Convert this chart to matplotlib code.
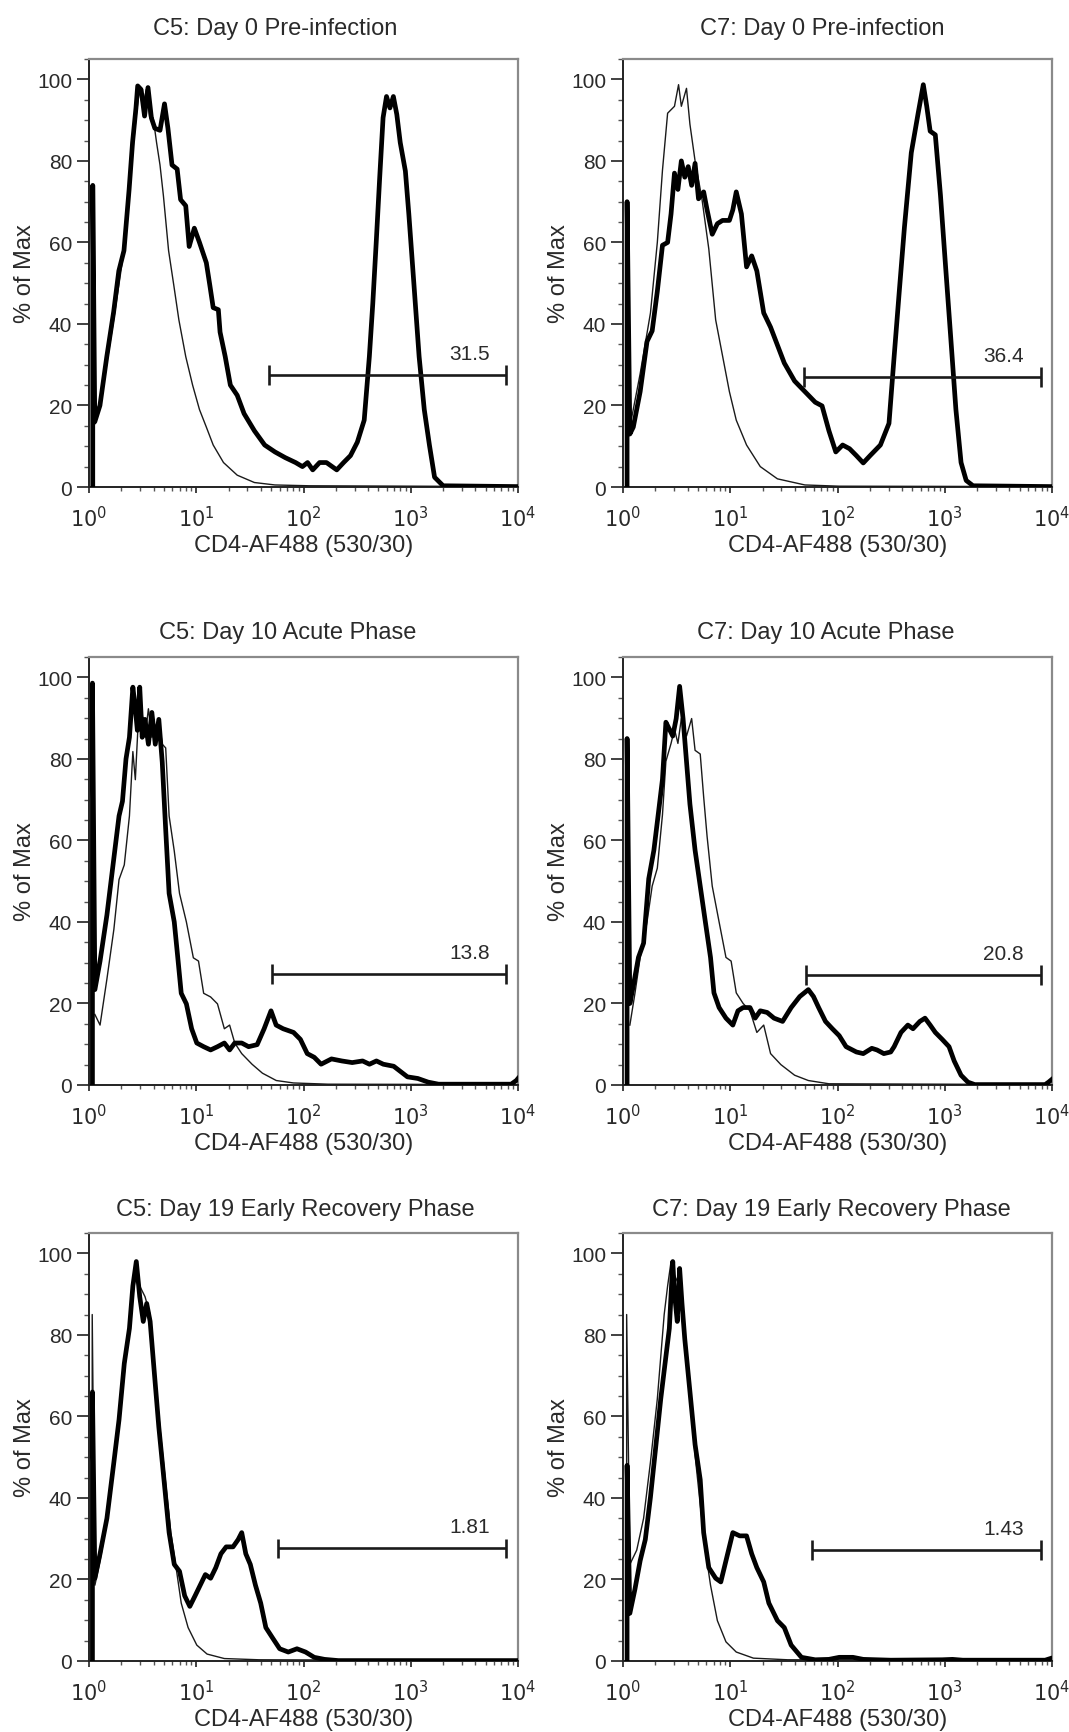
import matplotlib
matplotlib.use("Agg")
import matplotlib.pyplot as plt
import numpy as np
from matplotlib.ticker import LogLocator, MultipleLocator, FixedLocator, NullFormatter

plt.rcParams['font.family'] = ['Liberation Sans', 'DejaVu Sans']

# ---------------- data (x in log10 of CD4-AF488 intensity, y in % of Max) ----------------
titles = ["C5: Day 0 Pre-infection", "C7: Day 0 Pre-infection",
          "C5: Day 10 Acute Phase", "C7: Day 10 Acute Phase",
          "C5: Day 19 Early Recovery Phase", "C7: Day 19 Early Recovery Phase"]
gate_labels = ["31.5", "36.4", "13.8", "20.8", "1.81", "1.43"]
gate_lo = [1.68, 1.69, 1.71, 1.71, 1.76, 1.76]   # log10
gate_hi = [3.89, 3.90, 3.89, 3.90, 3.89, 3.90]
gate_y = [27.5, 27.0, 27.2, 27.0, 27.6, 27.2]

# Panel 1: C5 Day 0
p1_thick_x = [0.035, 0.035, 0.054, 0.102, 0.166, 0.23, 0.278, 0.326, 0.374, 0.406, 0.438, 0.454, 0.486,
              0.518, 0.55, 0.582, 0.614, 0.662, 0.704, 0.736, 0.774, 0.822, 0.854, 0.902, 0.934, 0.982,
              1.03, 1.094, 1.126, 1.158, 1.206, 1.222, 1.27, 1.318, 1.382, 1.446, 1.542, 1.638, 1.734,
              1.83, 1.926, 1.99, 2.038, 2.086, 2.15, 2.214, 2.31, 2.374, 2.438, 2.502, 2.566, 2.614,
              2.646, 2.678, 2.71, 2.742, 2.774, 2.806, 2.838, 2.87, 2.902, 2.95, 2.982, 3.03, 3.078,
              3.126, 3.174, 3.222, 3.302, 4.0]
p1_thick_y = [0, 74, 16, 20, 32, 43, 53, 58, 73, 84.5, 93, 98.4, 97.5,
              91, 98, 90.5, 88, 87.5, 94, 88, 79, 78, 70.5, 69, 59, 63.5,
              60, 55, 49.6, 44, 43.5, 38, 32, 25, 22.5, 18, 13.8, 10.3, 8.6,
              7.2, 6, 5, 6, 4.2, 6, 6, 4.2, 6, 7.7, 11, 16.4, 32,
              45, 60, 75.7, 90.6, 95.8, 93, 95.8, 91.4, 84.5, 77.5, 67, 49.6, 32,
              19, 10.3, 2.4, 0.3, 0.1]
p1_thin_x = [0.054, 0.134, 0.23, 0.326, 0.39, 0.438, 0.47, 0.502, 0.534, 0.566, 0.598, 0.63, 0.662,
             0.694, 0.742, 0.79, 0.838, 0.902, 0.966, 1.03, 1.094, 1.158, 1.254, 1.382, 1.542,
             1.734, 2.054, 4.0]
p1_thin_y = [15.5, 25, 41, 58, 77.5, 90.6, 97.5, 93, 97.5, 90.6, 90.6, 84.5, 79,
             71.4, 58, 49.6, 41, 32, 25, 19, 14.7, 10.3, 6, 2.9, 1.1,
             0.5, 0.3, 0.1]

# Panel 2: C7 Day 0
p2_thick_x = [0.038, 0.038, 0.064, 0.096, 0.16, 0.224, 0.272, 0.32, 0.368, 0.416, 0.448, 0.48, 0.512,
              0.544, 0.576, 0.608, 0.64, 0.672, 0.704, 0.752, 0.784, 0.832, 0.88, 0.928, 0.992, 1.024,
              1.056, 1.104, 1.152, 1.2, 1.248, 1.312, 1.376, 1.44, 1.504, 1.6, 1.696, 1.792, 1.856,
              1.92, 1.984, 2.048, 2.112, 2.176, 2.24, 2.304, 2.4, 2.48, 2.528, 2.576, 2.624, 2.688,
              2.752, 2.8, 2.832, 2.864, 2.912, 2.96, 3.008, 3.056, 3.104, 3.152, 3.2, 3.264, 4.0]
p2_thick_y = [0, 70, 13, 14.7, 23.4, 35.7, 38.3, 48, 59.3, 60, 67, 77, 73,
              80, 76, 78.6, 74, 79.4, 70.7, 72.4, 68, 62, 64.6, 65.4, 65.4, 68,
              72.4, 67, 54, 56.7, 53, 42.7, 39.2, 34.8, 30.4, 26, 23.4, 20.8, 19.9,
              13.8, 8.6, 10.3, 9.4, 7.7, 5.9, 7.7, 10.3, 15.6, 32, 48, 63.7, 82,
              91.7, 98.7, 93.4, 87.3, 86.4, 71.6, 54, 36.6, 19, 6, 1.6, 0.3, 0.1]
p2_thin_x = [0.064, 0.16, 0.256, 0.32, 0.368, 0.416, 0.48, 0.518, 0.544, 0.592, 0.624, 0.672, 0.736,
             0.8, 0.864, 0.928, 0.992, 1.056, 1.152, 1.28, 1.44, 1.696, 2.016, 4.0]
p2_thin_y = [14.7, 27.8, 42.7, 60, 77.7, 91.7, 93.4, 98.7, 93.4, 97.8, 89, 80, 70.7,
             58.4, 41, 32.2, 23.4, 16.4, 10.3, 5, 2, 0.5, 0.2, 0.1]

# Panel 3: C5 Day 10
p3_thick_x = [0.032, 0.032, 0.055, 0.103, 0.167, 0.232, 0.28, 0.312, 0.345, 0.377, 0.409, 0.432, 0.451,
              0.473, 0.496, 0.522, 0.554, 0.586, 0.618, 0.651, 0.683, 0.715, 0.747, 0.795, 0.828, 0.86,
              0.908, 0.957, 1.005, 1.069, 1.134, 1.198, 1.262, 1.311, 1.359, 1.424, 1.488, 1.568, 1.633,
              1.697, 1.745, 1.81, 1.907, 1.971, 2.035, 2.1, 2.164, 2.261, 2.357, 2.454, 2.551, 2.615,
              2.68, 2.744, 2.841, 2.905, 2.969, 3.066, 3.163, 3.259, 3.936, 3.984, 4.0]
p3_thick_y = [0, 98.6, 23.4, 30.4, 41.7, 55.7, 66, 69.6, 80, 85.3, 97.6, 92.3, 87,
              97.6, 85.3, 89.7, 83.6, 91.4, 83.6, 89.7, 79.2, 62.7, 47, 40, 31.2, 22.5,
              19.9, 13.8, 10.3, 9.4, 8.6, 9.4, 10.3, 8.6, 10.3, 10.3, 9.4, 9.9, 13.8,
              18.2, 14.7, 13.8, 12.9, 11.2, 7.7, 6.8, 5.1, 6.4, 5.9, 5.5, 5.9, 5.1,
              5.9, 5.1, 4.6, 3.3, 2.0, 1.6, 0.7, 0.2, 0.2, 1.1, 1.6]
p3_thin_x = [0.055, 0.103, 0.167, 0.232, 0.28, 0.329, 0.377, 0.409, 0.432, 0.457, 0.49, 0.522, 0.554,
             0.586, 0.618, 0.651, 0.683, 0.715, 0.747, 0.795, 0.844, 0.908, 0.973, 1.021, 1.069, 1.134,
             1.198, 1.262, 1.311, 1.359, 1.424, 1.52, 1.617, 1.746, 1.907, 2.229, 4.0]
p3_thin_y = [17.3, 14.7, 26, 38.2, 50.4, 54, 66, 81.8, 74.9, 88, 92.3, 85.3, 92.3,
             85.3, 88, 89.7, 83.6, 82.7, 66, 57.4, 47, 40, 31.2, 30.4, 22.5, 21.6,
             19.9, 13.8, 14.7, 10.3, 7.7, 5.1, 2.9, 1.1, 0.5, 0.2, 0.1]

# Panel 4: C7 Day 10
p4_thick_x = [0.038, 0.038, 0.064, 0.096, 0.144, 0.192, 0.24, 0.288, 0.336, 0.368, 0.4, 0.432, 0.464,
              0.496, 0.528, 0.56, 0.592, 0.624, 0.672, 0.72, 0.768, 0.816, 0.848, 0.896, 0.96, 1.024,
              1.072, 1.12, 1.184, 1.232, 1.28, 1.344, 1.408, 1.488, 1.568, 1.648, 1.728, 1.776, 1.824,
              1.888, 1.952, 2.016, 2.08, 2.176, 2.24, 2.32, 2.368, 2.432, 2.496, 2.528, 2.592, 2.656,
              2.704, 2.768, 2.816, 2.864, 2.912, 2.976, 3.04, 3.088, 3.152, 3.216, 3.28, 3.936, 3.968,
              4.0]
p4_thick_y = [0, 85, 20, 24.3, 31.3, 34.8, 50.6, 57.6, 68, 75, 89, 87.3, 85.6,
              89.9, 97.8, 89.9, 79.4, 68.9, 57.6, 48.8, 40, 31.3, 22.6, 19, 16.4, 14.7,
              18.2, 19, 19, 16.4, 18.2, 17.8, 16.4, 15.6, 19, 21.7, 23.4, 21.7, 19,
              15.6, 13.8, 12.1, 9.4, 8.1, 7.7, 9, 8.6, 7.7, 8.1, 9.4, 12.9, 14.7,
              13.8, 15.6, 16.4, 14.7, 12.9, 11.2, 9.4, 5.9, 2.4, 0.7, 0.1, 0.1, 0.7,
              1.4]
p4_thin_x = [0.064, 0.112, 0.16, 0.224, 0.272, 0.32, 0.368, 0.4, 0.448, 0.48, 0.512, 0.544, 0.592,
             0.64, 0.672, 0.72, 0.752, 0.784, 0.832, 0.896, 0.96, 1.008, 1.056, 1.12, 1.184, 1.248,
             1.312, 1.376, 1.472, 1.6, 1.728, 1.92, 4.0]
p4_thin_y = [14.7, 22.6, 31.3, 40, 48.8, 53.2, 66.3, 79.4, 83.8, 87.3, 83.8, 89.9, 85.6,
             89.9, 82.1, 81.2, 70.7, 61, 48.8, 40, 31.3, 30.4, 22.6, 20, 18.2, 12.9,
             14.7, 7.7, 5, 2.4, 1.1, 0.3, 0.1]

# Panel 5: C5 Day 19
p5_thick_x = [0.032, 0.032, 0.055, 0.103, 0.167, 0.232, 0.28, 0.329, 0.377, 0.409, 0.441, 0.473, 0.506,
              0.538, 0.57, 0.602, 0.651, 0.699, 0.747, 0.795, 0.844, 0.892, 0.94, 0.989, 1.037, 1.085,
              1.134, 1.182, 1.23, 1.279, 1.343, 1.391, 1.424, 1.462, 1.504, 1.552, 1.601, 1.649, 1.713,
              1.778, 1.858, 1.939, 2.019, 2.1, 2.196, 2.325, 4.0]
p5_thick_y = [0, 66, 20.3, 26.3, 35, 48.8, 59.2, 73, 81.6, 92, 98, 89.4, 83.3,
              87.7, 83.3, 73, 57.4, 44.5, 31.5, 23.7, 22, 16, 13.4, 16, 18.6, 21.2,
              20.3, 22.9, 26.3, 28, 28, 29.8, 31.5, 26.3, 23.7, 18.6, 14.2, 8.2, 5.6,
              3, 2.2, 3, 2.2, 0.9, 0.4, 0.1, 0.1]
p5_thin_x = [0.03, 0.03, 0.055, 0.103, 0.167, 0.232, 0.296, 0.361, 0.409, 0.441, 0.473, 0.522, 0.57,
             0.618, 0.667, 0.715, 0.763, 0.812, 0.86, 0.924, 1.005, 1.101, 1.262, 1.585, 4.0]
p5_thin_y = [0, 85, 18.6, 24.6, 34.2, 47, 61.7, 79, 89.4, 96.3, 92, 89.4, 85,
             69.5, 55.7, 43.6, 31.5, 22.9, 14.2, 8.2, 3.9, 1.7, 0.6, 0.3, 0.1]

# Panel 6: C7 Day 19
p6_thick_x = [0.038, 0.038, 0.064, 0.112, 0.16, 0.208, 0.256, 0.304, 0.352, 0.4, 0.432, 0.464, 0.48,
              0.506, 0.528, 0.55, 0.576, 0.624, 0.672, 0.72, 0.752, 0.8, 0.864, 0.912, 0.96, 1.024,
              1.088, 1.152, 1.2, 1.248, 1.312, 1.36, 1.44, 1.504, 1.568, 1.664, 1.792, 1.92, 2.016,
              2.144, 2.24, 2.496, 2.976, 3.072, 3.168, 3.936, 3.984]
p6_thick_y = [0, 48, 11.7, 17.7, 24.6, 29.8, 40.2, 52.2, 64.3, 74.7, 81.6, 98, 90.2,
              83.3, 96.3, 87.7, 79, 66.1, 53.1, 44.5, 31.5, 22.9, 20.3, 19.4, 24.6, 31.5,
              30.7, 30.7, 26.3, 22.9, 19.4, 14.2, 9.9, 8.2, 3.9, 0.9, 0.3, 0.4, 0.9,
              0.9, 0.4, 0.2, 0.3, 0.4, 0.2, 0.2, 0.6]
p6_thin_x = [0.034, 0.034, 0.064, 0.128, 0.192, 0.256, 0.32, 0.384, 0.416, 0.448, 0.48, 0.528, 0.576,
             0.624, 0.672, 0.72, 0.768, 0.816, 0.88, 0.96, 1.056, 1.216, 1.536, 4.0]
p6_thin_y = [0, 85, 23.7, 27.2, 35, 48.8, 64.3, 85, 92, 98, 94.6, 92, 79,
             66.1, 50.5, 38.4, 27.2, 18.6, 9.9, 4.7, 2.2, 0.7, 0.3, 0.1]

thick_x = [p1_thick_x, p2_thick_x, p3_thick_x, p4_thick_x, p5_thick_x, p6_thick_x]
thick_y = [p1_thick_y, p2_thick_y, p3_thick_y, p4_thick_y, p5_thick_y, p6_thick_y]
thin_x = [p1_thin_x, p2_thin_x, p3_thin_x, p4_thin_x, p5_thin_x, p6_thin_x]
thin_y = [p1_thin_y, p2_thin_y, p3_thin_y, p4_thin_y, p5_thin_y, p6_thin_y]

xlabel = "CD4-AF488 (530/30)"
ylabel = "% of Max"
yticks = [0, 20, 40, 60, 80, 100]
xticks = [1, 10, 100, 1000, 10000]
xticklabels = [r"$10^{0}$", r"$10^{1}$", r"$10^{2}$", r"$10^{3}$", r"$10^{4}$"]

# ---------------- figure ----------------
W, H = 1069, 1733
fig = plt.figure(figsize=(W / 100, H / 100), dpi=100)
fig.patch.set_facecolor("white")

col_left = [89, 623]
row_top = [60, 658, 1234]
title_pad = [18, 14, 13]
title_x = [0.435, 0.465, 0.463, 0.472, 0.481, 0.486]
ax_w, ax_h = 429, 428

txt_col = "#2a2a2a"
for i in range(6):
    r, c = divmod(i, 2)
    left = col_left[c] / W
    bottom = 1 - (row_top[r] + ax_h) / H
    ax = fig.add_axes([left, bottom, ax_w / W, ax_h / H])
    ax.set_xscale("log")
    ax.set_xlim(1, 1e4)
    ax.set_ylim(0, 105)

    tx = 10 ** np.array(thin_x[i])
    ax.plot(tx, thin_y[i], color="#1a1a1a", lw=1.0, zorder=3)
    kx = 10 ** np.array(thick_x[i])
    ax.plot(kx, thick_y[i], color="black", lw=3.4, zorder=4, solid_joinstyle="round")

    # gate
    lo, hi, gy = 10 ** gate_lo[i], 10 ** gate_hi[i], gate_y[i]
    ax.hlines(gy, lo, hi, color="#1a1a1a", lw=1.9, zorder=5)
    ax.vlines([lo, hi], gy - 2.4, gy + 2.4, color="#1a1a1a", lw=1.9, zorder=5)
    ax.text(10 ** 3.55, gy + 5.3, gate_labels[i], ha="center", va="center",
            fontsize=15, color=txt_col)

    ax.set_title(titles[i], fontsize=17, color=txt_col, pad=title_pad[r], x=title_x[i])
    ax.set_xlabel(xlabel, fontsize=17, color=txt_col, labelpad=3)
    ax.set_ylabel(ylabel, fontsize=17, color=txt_col, labelpad=1)

    ax.xaxis.set_major_locator(FixedLocator(xticks))
    ax.set_xticklabels(xticklabels)
    ax.xaxis.set_minor_locator(LogLocator(base=10, subs=np.arange(2, 10)))
    ax.xaxis.set_minor_formatter(NullFormatter())
    ax.set_yticks(yticks)
    ax.yaxis.set_minor_locator(MultipleLocator(5))

    ax.tick_params(axis="both", which="major", labelsize=15, labelcolor=txt_col,
                   color="#333333", direction="out")
    ax.tick_params(axis="y", which="major", length=8.6, width=1.3, pad=3.6)
    ax.tick_params(axis="x", which="major", length=4, width=1.3, pad=9)
    ax.tick_params(axis="y", which="minor", length=3.5, width=1.0, color="#555555")
    ax.tick_params(axis="x", which="minor", length=3, width=1.0, color="#555555")

    for s in ["left", "bottom"]:
        ax.spines[s].set_color("#222222")
        ax.spines[s].set_linewidth(1.4)
    for s in ["top", "right"]:
        ax.spines[s].set_color("#8a8a8a")
        ax.spines[s].set_linewidth(1.6)

fig.savefig("out.png", dpi=100, facecolor="white")
